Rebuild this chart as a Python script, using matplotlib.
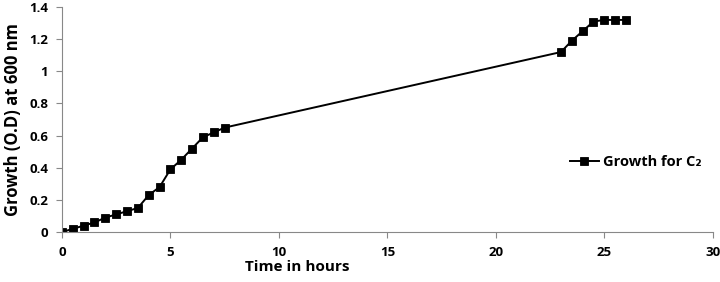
import matplotlib.pyplot as plt

# tempo (ore) e densità ottica
ore = [0, 0.5, 1, 1.5, 2, 2.5, 3, 3.5, 4, 4.5, 5, 5.5, 6, 6.5, 7, 7.5,
       23, 23.5, 24, 24.5, 25, 25.5, 26]
od = [0, 0.02, 0.04, 0.06, 0.09, 0.11, 0.13, 0.15, 0.23, 0.28, 0.39, 0.45,
      0.52, 0.59, 0.62, 0.65, 1.12, 1.19, 1.25, 1.31, 1.32, 1.32, 1.32]

plt.rcParams['font.family'] = ['Open Sans', 'DejaVu Sans']

fig = plt.figure(figsize=(7.2, 2.82), dpi=100)
ax = fig.add_axes([0.086, 0.177, 0.904, 0.798])
ax.plot(ore, od, color='black', linewidth=1.4, marker='s', markersize=5.6,
        markeredgewidth=0.6, label='Growth for C₂')

ax.set_xlim(0, 30)
ax.set_ylim(0, 1.4)
ax.set_xticks([0, 5, 10, 15, 20, 25, 30])
ax.set_yticks([0, 0.2, 0.4, 0.6, 0.8, 1, 1.2, 1.4])
ax.set_yticklabels(['0', '0.2', '0.4', '0.6', '0.8', '1', '1.2', '1.4'])
ax.tick_params(labelsize=9.5, length=4, color='#888888', pad=6)
for lab in ax.get_xticklabels() + ax.get_yticklabels():
    lab.set_fontweight('bold')
ax.spines['top'].set_visible(False)
ax.spines['right'].set_visible(False)
ax.spines['left'].set_color('#888888')
ax.spines['bottom'].set_color('#888888')
ax.set_xlabel('Time in hours', fontsize=11, fontweight='bold')
ax.xaxis.set_label_coords(0.361, -0.125)
ax.set_ylabel('Growth (O.D) at 600 nm', fontsize=12, fontweight='bold', labelpad=5)
ax.legend(loc='center left', bbox_to_anchor=(0.76, 0.31), frameon=False,
          prop={'size': 10.5, 'weight': 'bold'}, handlelength=2, handletextpad=0.3)

fig.savefig('out.png', dpi=100)
